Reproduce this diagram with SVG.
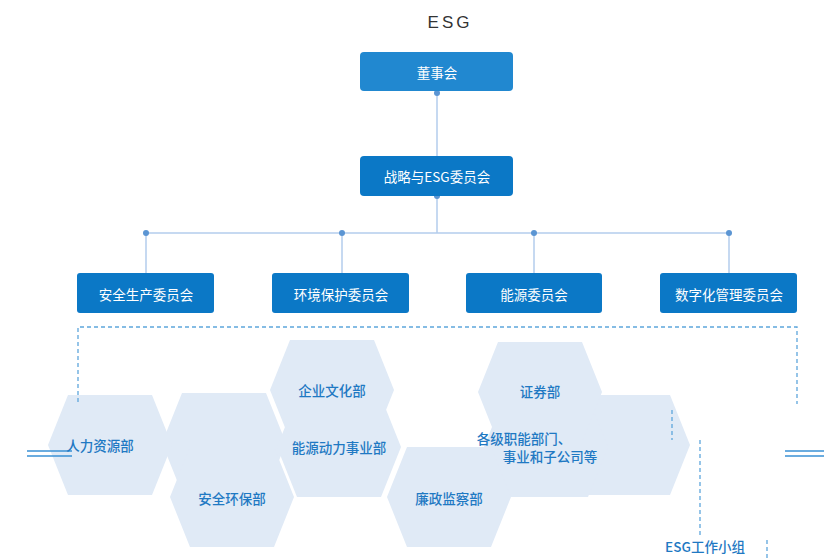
<svg xmlns="http://www.w3.org/2000/svg" width="824" height="560" viewBox="0 0 824 560">
<defs>
<style>
.box{fill:#0b78c6}
.box2{fill:#2188d0}
.bt{font-family:"Noto Sans CJK SC","Liberation Sans",sans-serif;font-size:13.5px;fill:#ffffff;text-anchor:middle;dominant-baseline:central}
.ln{stroke:#b3cdec;stroke-width:1.5;fill:none}
.dot{fill:#5b95d3}
.dash{stroke:#5ea6dc;stroke-width:1.3;stroke-dasharray:4 3;fill:none}
.hex{fill:#e0eaf6}
.ht{font-family:"Noto Sans CJK SC","Liberation Sans",sans-serif;font-size:13.5px;font-weight:500;fill:#1f79c3;text-anchor:middle;dominant-baseline:central}
.bl{stroke:#3a90d4;stroke-width:1.5}
</style>
<polygon id="hx" points="-62,0 -42,-50 42,-50 62,0 42,50 -42,50"/>
</defs>
<text x="450" y="22" font-family="'Liberation Sans',sans-serif" font-size="17" letter-spacing="3" fill="#333" text-anchor="middle" dominant-baseline="central">ESG</text>

<g id="hexes">
<use href="#hx" class="hex" x="224" y="443"/>
<use href="#hx" class="hex" x="628" y="445"/>
<use href="#hx" class="hex" x="110" y="445"/>
<use href="#hx" class="hex" x="339" y="447"/>
<use href="#hx" class="hex" x="546" y="447"/>
<use href="#hx" class="hex" x="332" y="390"/>
<use href="#hx" class="hex" x="540" y="392"/>
<use href="#hx" class="hex" x="232" y="497"/>
<use href="#hx" class="hex" x="449" y="497"/>
</g>

<g id="connectors">
<line class="ln" x1="437" y1="92" x2="437" y2="156"/>
<line class="ln" x1="437" y1="196" x2="437" y2="233"/>
<line class="ln" x1="146" y1="233" x2="729" y2="233"/>
<line class="ln" x1="146" y1="233" x2="146" y2="273"/>
<line class="ln" x1="342" y1="233" x2="342" y2="273"/>
<line class="ln" x1="534" y1="233" x2="534" y2="273"/>
<line class="ln" x1="729" y1="233" x2="729" y2="273"/>
<circle class="dot" cx="437" cy="93" r="3"/>
<circle class="dot" cx="437" cy="196" r="3"/>
<circle class="dot" cx="146" cy="233" r="3"/>
<circle class="dot" cx="342" cy="233" r="3"/>
<circle class="dot" cx="534" cy="233" r="3"/>
<circle class="dot" cx="729" cy="233" r="3"/>
<path class="dash" d="M78,402 V327 H797 V404"/>
<line class="dash" x1="672" y1="410" x2="672" y2="440"/>
<line class="dash" x1="700" y1="440" x2="700" y2="535"/>
<line class="dash" x1="767" y1="540" x2="767" y2="560"/>
<line class="bl" x1="27" y1="451" x2="72" y2="451"/>
<line class="bl" x1="27" y1="456" x2="72" y2="456"/>
<line class="bl" x1="785" y1="451" x2="824" y2="451"/>
<line class="bl" x1="785" y1="456" x2="824" y2="456"/>
</g>

<g id="n-board"><rect class="box2" x="360" y="52" width="153" height="39" rx="4"/><text class="bt" x="437" y="72">董事会</text></g>
<g id="n-strategy"><rect class="box" x="360" y="156" width="153" height="40" rx="4"/><text class="bt" x="437" y="176">战略与ESG委员会</text></g>
<g id="n-safety"><rect class="box" x="77" y="273" width="137" height="40" rx="3"/><text class="bt" x="146" y="294">安全生产委员会</text></g>
<g id="n-env"><rect class="box" x="272" y="273" width="137" height="40" rx="3"/><text class="bt" x="341" y="294">环境保护委员会</text></g>
<g id="n-energy"><rect class="box" x="466" y="273" width="136" height="40" rx="3"/><text class="bt" x="534" y="294">能源委员会</text></g>
<g id="n-digital"><rect class="box" x="660" y="273" width="137" height="40" rx="3"/><text class="bt" x="729" y="294">数字化管理委员会</text></g>

<g id="h-culture"><text class="ht" x="332" y="390">企业文化部</text></g>
<g id="h-securities"><text class="ht" x="540" y="391">证券部</text></g>
<g id="h-hr"><text class="ht" x="100" y="445">人力资源部</text></g>
<g id="h-power"><text class="ht" x="339" y="447">能源动力事业部</text></g>
<g id="h-depts"><text class="ht" x="524" y="438">各级职能部门、</text><text class="ht" x="550" y="456">事业和子公司等</text></g>
<g id="h-safety"><text class="ht" x="232" y="498">安全环保部</text></g>
<g id="h-integrity"><text class="ht" x="449" y="498">廉政监察部</text></g>
<g id="esg-group"><text class="ht" x="705" y="546">ESG工作小组</text></g>
</svg>
